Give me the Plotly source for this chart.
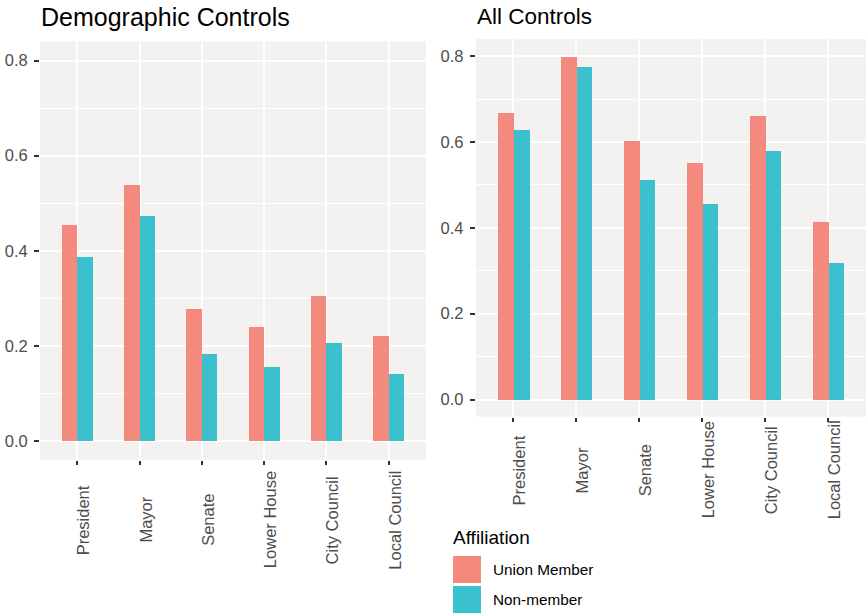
import plotly.graph_objects as go

categories = ["President", "Mayor", "Senate", "Lower House", "City Council", "Local Council"]
demo_union = [0.456, 0.540, 0.278, 0.241, 0.306, 0.222]
demo_non = [0.388, 0.475, 0.183, 0.156, 0.207, 0.141]
all_union = [0.668, 0.799, 0.603, 0.552, 0.661, 0.414]
all_non = [0.627, 0.774, 0.511, 0.456, 0.580, 0.317]
series_names = ["Union Member", "Non-member"]
panel_titles = ["Demographic Controls", "All Controls"]
y_ticks = [0.0, 0.2, 0.4, 0.6, 0.8]
y_tick_labels = ["0.0", "0.2", "0.4", "0.6", "0.8"]

C_UNION = "#F4897D"
C_NON = "#3AC1CD"
PANEL_BG = "#F3F2F0"
W, H = 866, 613
FONT = "Liberation Sans, Arial, Helvetica, sans-serif"

fig = go.Figure()
xs = list(range(1, len(categories) + 1))

for vals_u, vals_n, xa, ya in [(demo_union, demo_non, "x", "y"), (all_union, all_non, "x2", "y2")]:
    fig.add_trace(go.Bar(x=[x - 0.125 for x in xs], y=vals_u, width=0.25, marker=dict(color=C_UNION, line=dict(width=0)),
                         name=series_names[0], xaxis=xa, yaxis=ya, showlegend=False))
    fig.add_trace(go.Bar(x=[x + 0.125 for x in xs], y=vals_n, width=0.25, marker=dict(color=C_NON, line=dict(width=0)),
                         name=series_names[1], xaxis=xa, yaxis=ya, showlegend=False))


def px_x(p):
    return p / W


def px_y(p):
    return 1 - p / H


common_x = dict(range=[0.4, 6.6], tickmode="array", tickvals=xs, ticktext=["" for _ in xs],
                showgrid=True, gridcolor="white", gridwidth=2, zeroline=False,
                ticks="outside", ticklen=4, tickwidth=1.5, tickcolor="#333333", showline=False,
                fixedrange=True)
common_y = dict(range=[-0.04, 0.84], tickmode="array", tickvals=y_ticks, ticktext=y_tick_labels,
                showgrid=True, gridcolor="white", gridwidth=2, zeroline=False,
                ticks="outside", ticklen=5, tickwidth=1.5, tickcolor="#333333",
                ticklabelstandoff=3,
                tickfont=dict(family=FONT, size=16.5, color="#4D4D4D"),
                minor=dict(tickvals=[0.1, 0.3, 0.5, 0.7], showgrid=True, gridcolor="white", gridwidth=1, ticks=""),
                showline=False, fixedrange=True)

fig.update_layout(
    width=W, height=H,
    margin=dict(l=0, r=0, t=0, b=0),
    paper_bgcolor="white",
    plot_bgcolor=PANEL_BG,
    barmode="overlay",
    bargap=0,
    showlegend=False,
    font=dict(family=FONT, color="#000000"),
    xaxis=dict(domain=[px_x(40), px_x(426)], anchor="y", **common_x),
    yaxis=dict(domain=[px_y(460), px_y(41.5)], anchor="x", **common_y),
    xaxis2=dict(domain=[px_x(475.7), 1.0], anchor="y2", **common_x),
    yaxis2=dict(domain=[px_y(416.7), px_y(39)], anchor="x2", **common_y),
)

annotations = []
# Panel titles
for title, x0, fs in [(panel_titles[0], 39, 25), (panel_titles[1], 475, 22.5)]:
    annotations.append(dict(text=title, x=px_x(x0), y=px_y(17), xref="paper", yref="paper",
                            xanchor="left", yanchor="middle", showarrow=False,
                            font=dict(family=FONT, size=fs, color="#000000")))

# Rotated category labels (centered, as in ggplot)
for xa, cy in [("x", 520), ("x2", 470)]:
    for i, c in enumerate(categories):
        annotations.append(dict(text=c, x=xs[i], y=px_y(cy), xref=xa, yref="paper",
                                xanchor="center", yanchor="middle", textangle=-90,
                                xshift=6, showarrow=False,
                                font=dict(family=FONT, size=16.5, color="#4D4D4D")))

# Legend
annotations.append(dict(text="Affiliation", x=px_x(451), y=px_y(537), xref="paper", yref="paper",
                        xanchor="left", yanchor="middle", showarrow=False,
                        font=dict(family=FONT, size=19, color="#000000")))
legend_rows = [(series_names[0], C_UNION, 556, 583), (series_names[1], C_NON, 586, 613)]
shapes = []
for name, col, y0, y1 in legend_rows:
    shapes.append(dict(type="rect", xref="paper", yref="paper",
                       x0=px_x(453), x1=px_x(481), y0=px_y(y1), y1=px_y(y0),
                       fillcolor=col, line=dict(width=0)))
    annotations.append(dict(text=name, x=px_x(491), y=px_y((y0 + y1) / 2), xref="paper", yref="paper",
                            xanchor="left", yanchor="middle", showarrow=False,
                            font=dict(family=FONT, size=15.3, color="#000000")))

fig.update_layout(annotations=annotations, shapes=shapes)

fig.write_html("out.html", config={"displayModeBar": False},
               post_script="document.body.style.margin='0';document.body.style.padding='0';document.body.style.overflow='hidden';")
